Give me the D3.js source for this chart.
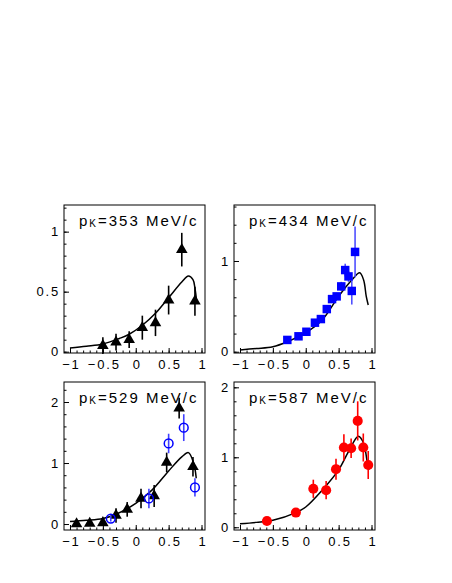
<!DOCTYPE html>
<html>
<head>
<meta charset="utf-8">
<script src="https://cdn.jsdelivr.net/npm/d3@7"></script>
<style>
  body { margin: 0; background: #fff; }
  svg text { font-family: "Liberation Sans", Arial, sans-serif; }
</style>
</head>
<body>
<svg id="chart" width="452" height="583"></svg>
<script>
// momentum labels of the four panels
const momenta = [353, 434, 529, 587];

// panel 1: triangles (x, y, err)
const p1X = [-0.5, -0.3, -0.1, 0.1, 0.3, 0.5, 0.7, 0.9];
const p1Y = [0.05, 0.08, 0.10, 0.20, 0.24, 0.43, 0.85, 0.42];
const p1E = [0.07, 0.07, 0.07, 0.10, 0.11, 0.12, 0.14, 0.12];
const c1X = [-1, -0.75, -0.5, -0.25, -0.1, 0.1, 0.3, 0.5, 0.7, 0.8, 0.87, 0.9, 0.93];
const c1Y = [0.03, 0.045, 0.064, 0.11, 0.145, 0.22, 0.32, 0.45, 0.58, 0.63, 0.60, 0.53, 0.40];

// panel 2: squares
const p2X = [-0.28, -0.11, 0.01, 0.14, 0.23, 0.32, 0.40, 0.47, 0.54, 0.60, 0.65, 0.70, 0.75];
const p2Y = [0.13, 0.17, 0.22, 0.32, 0.36, 0.47, 0.58, 0.61, 0.72, 0.90, 0.83, 0.67, 1.10];
const p2E = [0.03, 0.03, 0.03, 0.03, 0.03, 0.04, 0.04, 0.04, 0.05, 0.07, 0.06, 0.15, 0.28];
const c2X = [-1, -0.75, -0.5, -0.28, 0, 0.25, 0.5, 0.7, 0.82, 0.88, 0.92, 0.95];
const c2Y = [0.02, 0.035, 0.055, 0.11, 0.21, 0.35, 0.61, 0.79, 0.87, 0.79, 0.61, 0.515];

// panel 3: triangles and open circles
const p3X = [-0.9, -0.7, -0.5, -0.3, -0.13, 0.08, 0.28, 0.47, 0.66, 0.87];
const p3Y = [0.0, 0.01, 0.02, 0.14, 0.24, 0.42, 0.46, 1.01, 1.90, 0.94];
const p3E = [0.03, 0.03, 0.03, 0.12, 0.12, 0.16, 0.18, 0.16, 0.17, 0.16];
const o3X = [-0.38, 0.2, 0.5, 0.73, 0.9];
const o3Y = [0.09, 0.42, 1.32, 1.58, 0.60];
const o3E = [0.05, 0.16, 0.16, 0.22, 0.15];
const c3X = [-1, -0.75, -0.5, -0.3, 0, 0.25, 0.5, 0.7, 0.8, 0.88, 0.92];
const c3Y = [0.04, 0.06, 0.09, 0.16, 0.34, 0.56, 0.87, 1.10, 1.17, 1.0, 0.75];

// panel 4: red circles
const p4X = [-0.59, -0.15, 0.115, 0.31, 0.46, 0.58, 0.69, 0.79, 0.875, 0.95];
const p4Y = [0.09, 0.21, 0.55, 0.53, 0.83, 1.14, 1.13, 1.52, 1.14, 0.89];
const p4E = [0.04, 0.05, 0.13, 0.13, 0.15, 0.19, 0.14, 0.28, 0.20, 0.20];
const c4X = [-1, -0.75, -0.5, -0.15, 0, 0.25, 0.5, 0.65, 0.8, 0.88, 0.93, 0.96];
const c4Y = [0.05, 0.07, 0.10, 0.21, 0.29, 0.53, 0.82, 1.08, 1.30, 1.20, 0.96, 0.82];

const zip = (xs, ys, es) => xs.map((x, i) => ({x: x, y: ys[i], e: es ? es[i] : 0}));

const panels = [
  {left: 64, top: 205, yDom: [-0.011, 1.222], major: [0, 0.5, 1], minorStep: 0.1,
   series: [{pts: zip(p1X, p1Y, p1E), shape: "tri", color: "#000"}],
   curve: zip(c1X, c1Y)},
  {left: 234, top: 205, yDom: [-0.014, 1.617], major: [0, 1], minorStep: 0.2,
   series: [{pts: zip(p2X, p2Y, p2E), shape: "sq", color: "#0000ff", err: "#5050ff"}],
   curve: zip(c2X, c2Y)},
  {left: 64, top: 382, yDom: [-0.098, 2.328], major: [0, 1, 2], minorStep: 0.2,
   series: [{pts: zip(p3X, p3Y, p3E), shape: "tri", color: "#000"},
            {pts: zip(o3X, o3Y, o3E), shape: "open", color: "#0000ff", err: "#4040ff"}],
   curve: zip(c3X, c3Y)},
  {left: 234, top: 382, yDom: [-0.039, 2.076], major: [0, 1, 2], minorStep: 0.2,
   series: [{pts: zip(p4X, p4Y, p4E), shape: "dot", color: "#ff0000"}],
   curve: zip(c4X, c4Y)}
];

const W = 141, H = 148;
const fmt = d => (d < 0 ? "\u2212" : "") + Math.abs(d);
const svg = d3.select("#chart");

panels.forEach((p, i) => {
  const g = svg.append("g").attr("transform", `translate(${p.left},${p.top})`);
  const x = d3.scaleLinear().domain([-1.091, 1.053]).range([0, W]);
  const y = d3.scaleLinear().domain(p.yDom).range([H, 0]);

  // frame
  g.append("rect").attr("width", W).attr("height", H)
    .attr("fill", "none").attr("stroke", "#000").attr("stroke-width", 1);

  // x axis: major ticks with labels, minor ticks inside
  const xMajor = d3.axisBottom(x).tickValues([-1, -0.5, 0, 0.5, 1])
    .tickSizeInner(-5).tickSizeOuter(0).tickPadding(7).tickFormat(fmt);
  const xMinor = d3.axisBottom(x).tickValues(d3.range(-10, 11).map(d => d / 10))
    .tickSizeInner(-2.5).tickSizeOuter(0).tickFormat("");
  [xMinor, xMajor].forEach(ax => {
    const a = g.append("g").attr("transform", `translate(0,${H})`).call(ax);
    a.select(".domain").remove();
    a.selectAll("line").attr("stroke", "#000");
    a.selectAll("text").attr("font-size", 13).attr("letter-spacing", 1.8)
      .attr("dx", 0.9).attr("fill", "#000");
  });

  // y axis
  const yTop = p.yDom[1];
  const yMinorVals = d3.range(0, Math.floor(yTop / p.minorStep + 1e-6) + 1).map(k => +(k * p.minorStep).toFixed(2));
  const yMajor = d3.axisLeft(y).tickValues(p.major)
    .tickSizeInner(-5).tickSizeOuter(0).tickPadding(4).tickFormat(d3.format("~g"));
  const yMinor = d3.axisLeft(y).tickValues(yMinorVals)
    .tickSizeInner(-2.5).tickSizeOuter(0).tickFormat("");
  [yMinor, yMajor].forEach(ax => {
    const a = g.append("g").call(ax);
    a.select(".domain").remove();
    a.selectAll("line").attr("stroke", "#000");
    a.selectAll("text").attr("font-size", 13).attr("letter-spacing", 1.8).attr("fill", "#000");
  });

  // title p_K = ... MeV/c
  const t = g.append("text").attr("x", 15).attr("y", 21).attr("font-size", 15)
    .attr("letter-spacing", 2).attr("fill", "#000");
  t.append("tspan").text("p");
  t.append("tspan").attr("font-size", 10).attr("dy", 1).text("K");
  t.append("tspan").attr("dy", -1).text("=" + momenta[i] + " MeV/c");

  // theory curve
  const line = d3.line().x(d => x(d.x)).y(d => y(d.y)).curve(d3.curveCatmullRom.alpha(0.5));
  g.append("path").datum(p.curve).attr("d", line)
    .attr("fill", "none").attr("stroke", "#000").attr("stroke-width", 1.5);

  // data points
  p.series.forEach(s => {
    const sg = g.append("g");
    sg.selectAll("line.err").data(s.pts).join("line").attr("class", "err")
      .attr("x1", d => x(d.x)).attr("x2", d => x(d.x))
      .attr("y1", d => y(d.y - d.e)).attr("y2", d => y(d.y + d.e))
      .attr("stroke", s.err || s.color).attr("stroke-width", 1.6);
    const sym = s.shape === "tri" ? d3.symbolTriangle : s.shape === "sq" ? d3.symbolSquare : d3.symbolCircle;
    const size = s.shape === "tri" ? 58 : s.shape === "sq" ? 72 : s.shape === "open" ? 60 : 80;
    sg.selectAll("path.m").data(s.pts).join("path").attr("class", "m")
      .attr("transform", d => `translate(${x(d.x)},${y(d.y)})`)
      .attr("d", d3.symbol(sym, size))
      .attr("fill", s.shape === "open" ? "none" : s.color)
      .attr("stroke", s.shape === "open" ? s.color : "none")
      .attr("stroke-width", 1.5);
  });
});
</script>
</body>
</html>
